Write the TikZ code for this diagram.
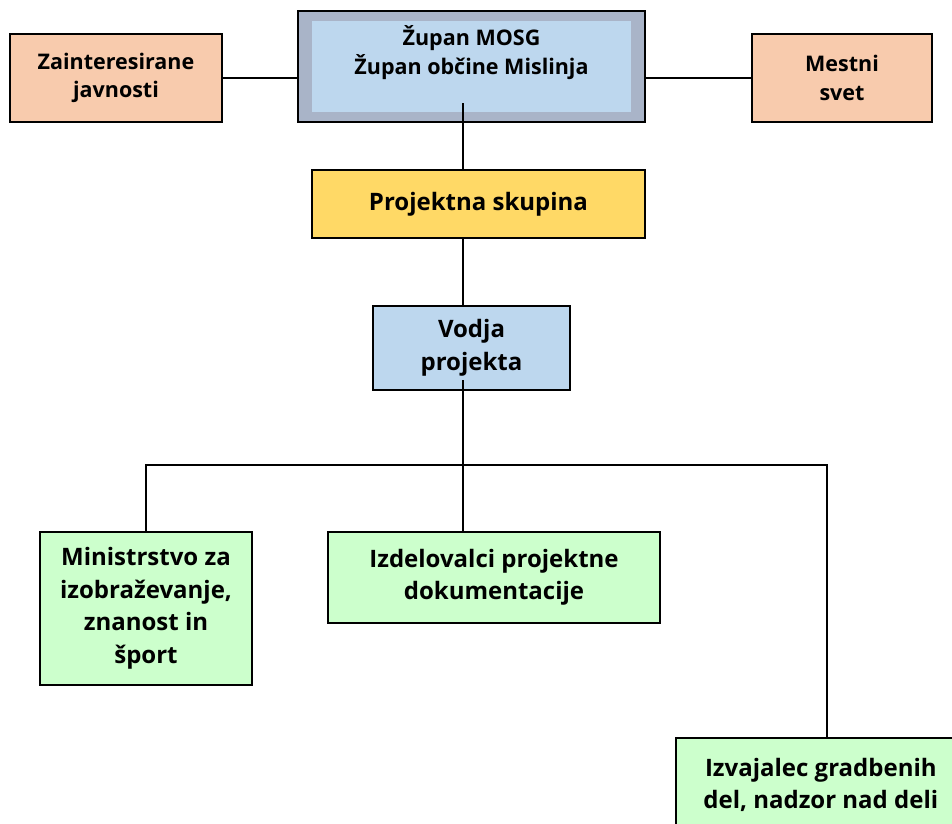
\documentclass[tikz,border=0pt]{standalone}
\usepackage{fontspec}
\setmainfont{Open Sans}
\definecolor{sivamodra}{HTML}{A9B4C8}
\definecolor{svetlomodra}{HTML}{BDD7EE}
\definecolor{oranzna}{HTML}{F8CBAD}
\definecolor{rumena}{HTML}{FFD966}
\definecolor{zelena}{HTML}{CCFFCC}
\tikzset{
  okvir/.style={draw, line width=1.6pt, align=center, inner sep=0pt,
    font=\fontsize{24}{32.5}\selectfont\bfseries},
  manjsi/.style={font=\fontsize{21.5}{28.5}\selectfont\bfseries},
  povezava/.style={line width=1.5pt}
}

\begin{document}
\begin{tikzpicture}[x=1pt, y=-1pt]
      \clip (0,0) rectangle (952,823);
      \fill[white] (0,0) rectangle (952,823);
      % vrh
      \node[okvir, fill=sivamodra, line width=2.2pt, minimum width=347pt, minimum height=111pt] (zupan) at (471.5,66.5) {};
      \node[fill=svetlomodra, inner sep=0pt, minimum width=319pt, minimum height=91pt] (zupannotr) at (471.5,66.5) {};
      \node[okvir, manjsi, draw=none] (zupantxt) at (471.5,52.5) {Župan MOSG\\Župan občine Mislinja};
      \node[okvir, manjsi, fill=oranzna, minimum width=212pt, minimum height=88pt] (javnosti) at (116,78) {Zainteresirane\\javnosti};
      \node[okvir, manjsi, fill=oranzna, minimum width=180pt, minimum height=88pt] (svet) at (842,78) {Mestni\\svet};
      % sredina
      \node[okvir, fill=rumena, minimum width=333pt, minimum height=68pt] (skupina) at (478.5,204) {Projektna skupina};
      \node[okvir, fill=svetlomodra, minimum width=197pt, minimum height=84pt] (vodja) at (471.5,348) {Vodja\\projekta};
      % spodaj
      \node[okvir, fill=zelena, minimum width=212pt, minimum height=153pt] (ministrstvo) at (146,608.5) {Ministrstvo za\\izobraževanje,\\znanost in\\šport};
      \node[okvir, fill=zelena, minimum width=332pt, minimum height=91pt] (izdelovalci) at (494,577.5) {Izdelovalci projektne\\dokumentacije};
      \node[okvir, fill=zelena, minimum width=290pt, minimum height=94pt, anchor=north west] (izvajalec) at (675,737) {Izvajalec gradbenih\\del, nadzor nad deli};
      % povezave
      \coordinate (zgoraj) at (463,103);
      \coordinate (vodjasp) at (463,380);
      \coordinate (desno) at (827,465);
      \draw[povezava] (javnosti.east) -- (javnosti.east -| zupan.west);
      \draw[povezava] (svet.west) -- (svet.west -| zupan.east);
      \draw[povezava] (zgoraj) -- (zgoraj |- skupina.north);
      \draw[povezava] (skupina.south -| zgoraj) -- (vodja.north -| zgoraj);
      \draw[povezava] (vodjasp) -- (vodjasp |- izdelovalci.north);
      \draw[povezava] (ministrstvo.north) |- (desno) -- (desno |- izvajalec.north);
\end{tikzpicture}
\end{document}
